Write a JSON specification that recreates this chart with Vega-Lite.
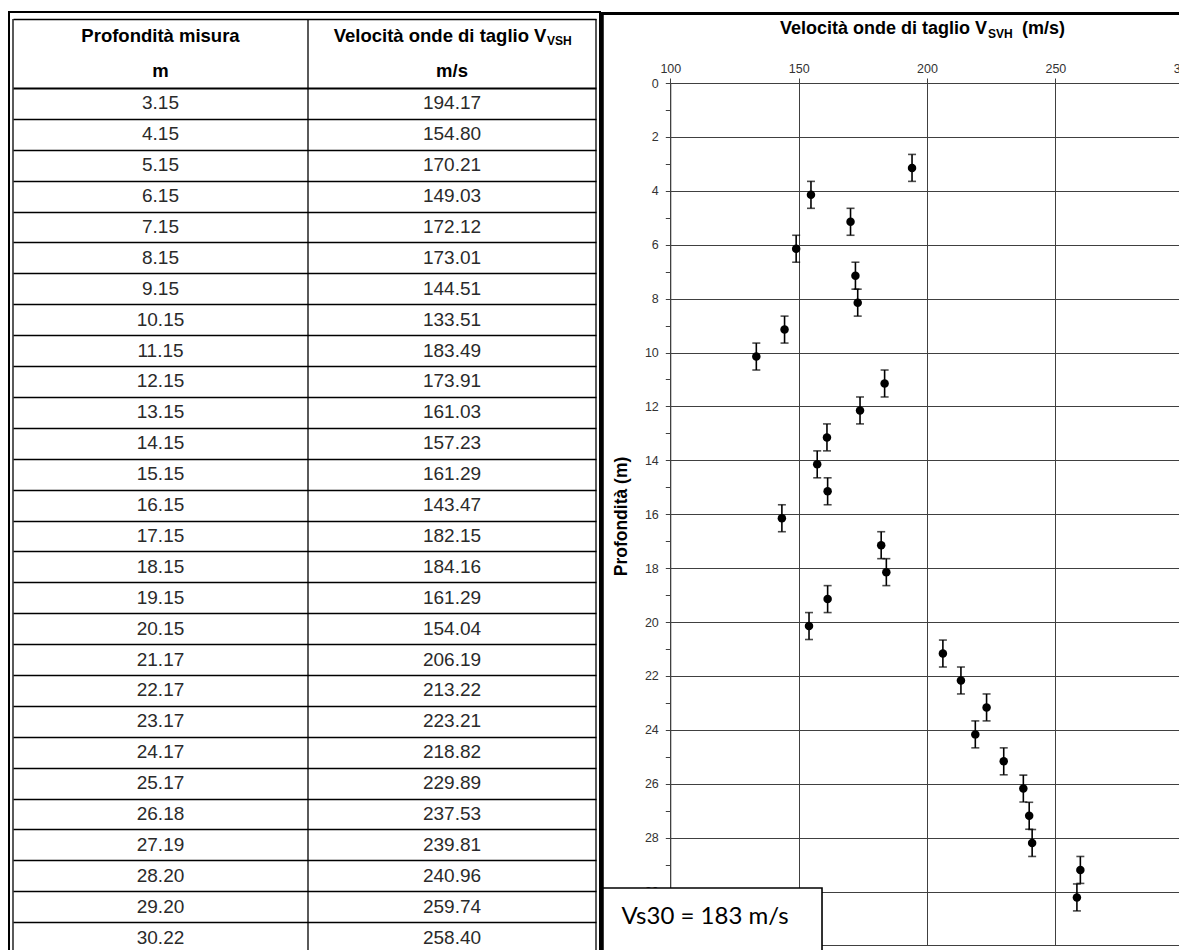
{
  "$schema": "https://vega.github.io/schema/vega-lite/v6.json",
  "width": 1179,
  "height": 950,
  "autosize": "none",
  "padding": 0,
  "background": "white",
  "config": {"view": {"stroke": null}, "text": {"font": "Liberation Sans"}, "axis": {"labelFont": "Liberation Sans", "titleFont": "Liberation Sans"}},
  "datasets": {
    "misure": [
      {"n": 1, "profondita": 3.15, "vs": 194.17, "err": 0.5},
      {"n": 2, "profondita": 4.15, "vs": 154.80, "err": 0.5},
      {"n": 3, "profondita": 5.15, "vs": 170.21, "err": 0.5},
      {"n": 4, "profondita": 6.15, "vs": 149.03, "err": 0.5},
      {"n": 5, "profondita": 7.15, "vs": 172.12, "err": 0.5},
      {"n": 6, "profondita": 8.15, "vs": 173.01, "err": 0.5},
      {"n": 7, "profondita": 9.15, "vs": 144.51, "err": 0.5},
      {"n": 8, "profondita": 10.15, "vs": 133.51, "err": 0.5},
      {"n": 9, "profondita": 11.15, "vs": 183.49, "err": 0.5},
      {"n": 10, "profondita": 12.15, "vs": 173.91, "err": 0.5},
      {"n": 11, "profondita": 13.15, "vs": 161.03, "err": 0.5},
      {"n": 12, "profondita": 14.15, "vs": 157.23, "err": 0.5},
      {"n": 13, "profondita": 15.15, "vs": 161.29, "err": 0.5},
      {"n": 14, "profondita": 16.15, "vs": 143.47, "err": 0.5},
      {"n": 15, "profondita": 17.15, "vs": 182.15, "err": 0.5},
      {"n": 16, "profondita": 18.15, "vs": 184.16, "err": 0.5},
      {"n": 17, "profondita": 19.15, "vs": 161.29, "err": 0.5},
      {"n": 18, "profondita": 20.15, "vs": 154.04, "err": 0.5},
      {"n": 19, "profondita": 21.17, "vs": 206.19, "err": 0.5},
      {"n": 20, "profondita": 22.17, "vs": 213.22, "err": 0.5},
      {"n": 21, "profondita": 23.17, "vs": 223.21, "err": 0.5},
      {"n": 22, "profondita": 24.17, "vs": 218.82, "err": 0.5},
      {"n": 23, "profondita": 25.17, "vs": 229.89, "err": 0.5},
      {"n": 24, "profondita": 26.18, "vs": 237.53, "err": 0.5},
      {"n": 25, "profondita": 27.19, "vs": 239.81, "err": 0.5},
      {"n": 26, "profondita": 28.20, "vs": 240.96, "err": 0.5},
      {"n": 27, "profondita": 29.20, "vs": 259.74, "err": 0.5},
      {"n": 28, "profondita": 30.22, "vs": 258.40, "err": 0.5}
    ]
  },
  "layer": [
    {
      "layer": [
        {
          "data": {"name": "misure"},
          "mark": {"type": "text", "fontSize": 19, "color": "#2a2a2a", "baseline": "middle"},
          "encoding": {
            "x": {"datum": 0.5, "type": "quantitative",
              "scale": {"domain": [0, 1, 2], "range": [13, 308, 596], "nice": false, "zero": false},
              "axis": null},
            "y": {"field": "n", "type": "quantitative",
              "scale": {"domain": [-1.5, 0.5, 28.5], "range": [19, 88, 953], "nice": false, "zero": false},
              "axis": {"orient": "left", "tickCount": 200, "values": [-1.5, 0.5, 1.5, 2.5, 3.5, 4.5, 5.5, 6.5, 7.5, 8.5, 9.5, 10.5, 11.5, 12.5, 13.5, 14.5, 15.5, 16.5, 17.5, 18.5, 19.5, 20.5, 21.5, 22.5, 23.5, 24.5, 25.5, 26.5, 27.5],
                "grid": true, "gridColor": "#000000", "gridOpacity": 1,
                "gridWidth": {"condition": {"test": "datum.value == 0.5", "value": 2.2}, "value": 1.3},
                "labels": false, "ticks": false, "domain": false, "title": null}},
            "text": {"field": "profondita", "type": "quantitative", "format": ".2f"}
          }
        },
        {
          "data": {"name": "misure"},
          "mark": {"type": "text", "fontSize": 19, "color": "#2a2a2a", "baseline": "middle"},
          "encoding": {
            "x": {"datum": 1.5, "type": "quantitative"},
            "y": {"field": "n", "type": "quantitative", "title": null},
            "text": {"field": "vs", "type": "quantitative", "format": ".2f"}
          }
        },
        {
          "data": {"values": [{}]},
          "mark": {"type": "rule", "color": "#000000", "strokeWidth": 1.3},
          "encoding": {"x": {"datum": 0, "type": "quantitative"}, "y": {"datum": -1.5, "type": "quantitative"}, "y2": {"datum": 28.6}}
        },
        {
          "data": {"values": [{}]},
          "mark": {"type": "rule", "color": "#000000", "strokeWidth": 1.3},
          "encoding": {"x": {"datum": 1, "type": "quantitative"}, "y": {"datum": -1.5, "type": "quantitative"}, "y2": {"datum": 28.6}}
        },
        {
          "data": {"values": [{}]},
          "mark": {"type": "rule", "color": "#000000", "strokeWidth": 1.3},
          "encoding": {"x": {"datum": 2, "type": "quantitative"}, "y": {"datum": -1.5, "type": "quantitative"}, "y2": {"datum": 28.6}}
        },
        {
          "data": {"values": [{}]},
          "mark": {"type": "text", "text": "Profondità misura", "fontSize": 18.5, "fontWeight": "bold", "color": "#000000", "baseline": "middle"},
          "encoding": {"x": {"datum": 0.5, "type": "quantitative"}, "y": {"datum": -1, "type": "quantitative"}}
        },
        {
          "data": {"values": [{}]},
          "mark": {"type": "text", "text": "m", "fontSize": 18.5, "fontWeight": "bold", "color": "#000000", "baseline": "middle"},
          "encoding": {"x": {"datum": 0.5, "type": "quantitative"}, "y": {"datum": 0, "type": "quantitative"}}
        },
        {
          "data": {"values": [{}]},
          "mark": {"type": "text", "text": "m/s", "fontSize": 18.5, "fontWeight": "bold", "color": "#000000", "baseline": "middle"},
          "encoding": {"x": {"datum": 1.5, "type": "quantitative"}, "y": {"datum": 0, "type": "quantitative"}}
        },
        {
          "data": {"values": [{}]},
          "mark": {"type": "text", "text": "Velocità onde di taglio V", "fontSize": 18.5, "fontWeight": "bold", "color": "#000000", "baseline": "middle", "align": "right"},
          "encoding": {"x": {"datum": 1.828, "type": "quantitative"}, "y": {"datum": -1, "type": "quantitative"}}
        },
        {
          "data": {"values": [{}]},
          "mark": {"type": "text", "text": "VSH", "fontSize": 12, "fontWeight": "bold", "color": "#000000", "baseline": "middle", "align": "left", "dy": 5},
          "encoding": {"x": {"datum": 1.830, "type": "quantitative"}, "y": {"datum": -1, "type": "quantitative"}}
        },
        {
          "data": {"values": [{}]},
          "mark": {"type": "rect", "fill": null, "fillOpacity": 0, "stroke": "#000000", "strokeWidth": 2},
          "encoding": {
            "x": {"datum": -0.01356, "type": "quantitative"}, "x2": {"datum": 2.0139},
            "y": {"datum": -1.703, "type": "quantitative"}, "y2": {"datum": 28.73}
          }
        }
      ]
    },
    {
      "layer": [
        {
          "data": {"name": "misure"},
          "mark": {"type": "errorbar", "color": "#000000", "thickness": 1.6, "ticks": {"size": 8, "thickness": 1.6, "color": "#000000"}, "rule": {"strokeWidth": 1.6, "color": "#000000"}},
          "encoding": {
            "x": {"field": "vs", "type": "quantitative",
              "scale": {"domain": [100, 300], "range": [670.3, 1183.7], "nice": false, "zero": false},
              "axis": {"orient": "top", "offset": -83, "tickCount": 50, "format": "d", "values": [100, 150, 200, 250, 300], "grid": true, "gridColor": "#404040", "gridWidth": 1, "gridOpacity": 1, "tickSize": 5, "tickColor": "#404040", "domainColor": "#404040", "labelFontSize": 12.5, "labelColor": "#333333", "labelPadding": 3, "labelFlush": false, "labelOverlap": false, "labelBound": false, "title": null}},
            "y": {"field": "profondita", "type": "quantitative",
              "scale": {"domain": [0, 32], "range": [83, 945.4], "nice": false, "zero": false},
              "axis": {"orient": "left", "offset": -670.3, "tickCount": 200, "format": "d", "values": [0, 1, 2, 3, 4, 5, 6, 7, 8, 9, 10, 11, 12, 13, 14, 15, 16, 17, 18, 19, 20, 21, 22, 23, 24, 25, 26, 27, 28, 29, 30, 31, 32],
                "grid": true, "gridColor": "#404040", "gridWidth": 1,
                "gridOpacity": {"condition": {"test": "datum.value % 2 == 1", "value": 0}, "value": 1},
                "labelExpr": "datum.value % 2 == 0 && datum.value < 31 ? datum.label : ''", "labelOverlap": false, "labelFlush": false, "labelBound": false,
                "labelFontSize": 12.5, "labelColor": "#333333", "labelPadding": 7, "tickSize": 5, "tickColor": "#404040", "domainColor": "#404040",
                "title": "Profondità (m)", "titleFontSize": 17.5, "titleFontWeight": "bold", "titleColor": "#000000", "titleAngle": 270, "titleX": -49, "titleY": 516, "titleAlign": "center", "titleBaseline": "middle",
                "encode": {"ticks": {"update": {"x2": {"signal": "datum.value % 2 == 1 ? 3.5 : -5"}}}}}},
            "yError": {"field": "err"}
          }
        },
        {
          "data": {"name": "misure"},
          "mark": {"type": "circle", "size": 72, "color": "#000000", "opacity": 1},
          "encoding": {
            "x": {"field": "vs", "type": "quantitative"},
            "y": {"field": "profondita", "type": "quantitative"}
          }
        },
        {
          "data": {"values": [{}]},
          "mark": {"type": "text", "text": "Velocità onde di taglio V", "fontSize": 18, "fontWeight": "bold", "color": "#000000", "align": "right", "baseline": "alphabetic"},
          "encoding": {"x": {"datum": 223.37, "type": "quantitative"}, "y": {"datum": -1.818, "type": "quantitative"}}
        },
        {
          "data": {"values": [{}]},
          "mark": {"type": "text", "text": "SVH", "fontSize": 12, "fontWeight": "bold", "color": "#000000", "align": "left", "baseline": "alphabetic"},
          "encoding": {"x": {"datum": 223.76, "type": "quantitative"}, "y": {"datum": -1.67, "type": "quantitative"}}
        },
        {
          "data": {"values": [{}]},
          "mark": {"type": "text", "text": "(m/s)", "fontSize": 18, "fontWeight": "bold", "color": "#000000", "align": "left", "baseline": "alphabetic"},
          "encoding": {"x": {"datum": 237.0, "type": "quantitative"}, "y": {"datum": -1.818, "type": "quantitative"}}
        },
        {
          "data": {"values": [{}]},
          "mark": {"type": "rect", "fill": "#ffffff", "stroke": "#000000", "strokeWidth": 1.6},
          "encoding": {
            "x": {"datum": 73.0, "type": "quantitative"}, "x2": {"datum": 159.1},
            "y": {"datum": 29.87, "type": "quantitative"}, "y2": {"datum": 33.5}
          }
        },
        {
          "data": {"values": [{}]},
          "mark": {"type": "text", "text": "Vs30 = 183 m/s", "font": "Lato", "fontSize": 24, "color": "#000000", "align": "left", "baseline": "middle"},
          "encoding": {"x": {"datum": 81.0, "type": "quantitative"}, "y": {"datum": 30.95, "type": "quantitative"}}
        },
        {
          "data": {"values": [{}]},
          "mark": {"type": "rule", "color": "#000000", "strokeWidth": 3.5},
          "encoding": {
            "x": {"datum": 73.4, "type": "quantitative"},
            "y": {"datum": -2.6, "type": "quantitative"}, "y2": {"datum": 33.5}
          }
        },
        {
          "data": {"values": [{}]},
          "mark": {"type": "rule", "color": "#000000", "strokeWidth": 3},
          "encoding": {
            "x": {"datum": 72.8, "type": "quantitative"}, "x2": {"datum": 300},
            "y": {"datum": -2.58, "type": "quantitative"}
          }
        }
      ]
    }
  ],
  "resolve": {"scale": {"x": "independent", "y": "independent"}}
}
